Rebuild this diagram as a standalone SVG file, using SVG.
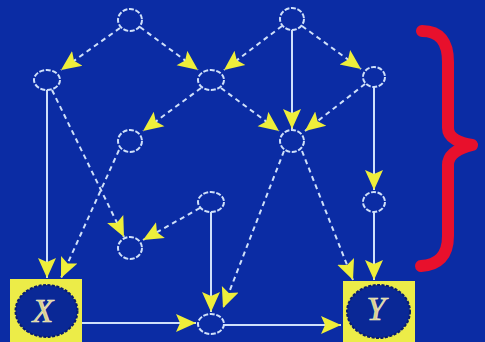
<svg xmlns="http://www.w3.org/2000/svg" width="485" height="342" viewBox="0 0 485 342">
<defs>
<style>
.bg{fill:#0b2ca4}
.n{fill:none;stroke:#cfe0fa;stroke-width:2;stroke-dasharray:5 1.6}
.s{fill:none;stroke:#cfe0fa;stroke-width:2;marker-end:url(#ah)}
.d{fill:none;stroke:#cfe0fa;stroke-width:2;stroke-dasharray:5 4;marker-end:url(#ah)}
.box{fill:#ecec48}
.inner{fill:#0a2896;stroke:#0a1c6e;stroke-width:2;stroke-dasharray:3 1.5}
.lbl{font-family:"Liberation Serif",serif;font-style:italic;font-size:34px;fill:#dcd08c;stroke:#f4f0d0;stroke-width:0.6;text-anchor:middle}
.brace{fill:none;stroke:#e8102c;stroke-width:12;stroke-linecap:round;stroke-linejoin:round}
</style>
<marker id="ah" markerUnits="userSpaceOnUse" viewBox="-20 -10 20 20" refX="0" refY="0" markerWidth="20" markerHeight="20" orient="auto">
<path d="M0,0 L-20,-9 L-16,0 L-20,9 Z" fill="#eeee3a"/>
</marker>
</defs>
<rect class="bg" x="0" y="0" width="485" height="342"/>

<g id="connectors">
<line class="d" x1="120" y1="28" x2="61" y2="70"/>
<line class="d" x1="140" y1="27" x2="198" y2="70"/>
<line class="d" x1="282" y1="26" x2="224" y2="70"/>
<line class="s" x1="292" y1="30" x2="292" y2="129"/>
<line class="d" x1="302" y1="26" x2="361" y2="69"/>
<line class="d" x1="221" y1="88" x2="279" y2="131"/>
<line class="d" x1="365" y1="84" x2="305" y2="131"/>
<line class="d" x1="201" y1="88" x2="143" y2="131"/>
<line class="s" x1="374" y1="87" x2="374" y2="190"/>
<line class="s" x1="47" y1="90" x2="47" y2="278"/>
<line class="d" x1="52" y1="90" x2="124" y2="237"/>
<line class="d" x1="119" y1="150" x2="61" y2="278"/>
<line class="d" x1="200" y1="208" x2="143" y2="240"/>
<line class="s" x1="211" y1="212" x2="211" y2="312"/>
<line class="d" x1="284" y1="151" x2="223" y2="308"/>
<line class="d" x1="302" y1="151" x2="353" y2="280"/>
<line class="s" x1="374" y1="212" x2="374" y2="280"/>
<line class="s" x1="82" y1="323" x2="196" y2="323"/>
<line class="s" x1="224" y1="325" x2="341" y2="325"/>
</g>

<g id="nA"><ellipse class="n" cx="130" cy="20" rx="12" ry="11"/></g>
<g id="nB"><ellipse class="n" cx="292" cy="19" rx="12" ry="11"/></g>
<g id="nC"><ellipse class="n" cx="47" cy="80" rx="13" ry="10"/></g>
<g id="nD"><ellipse class="n" cx="211" cy="80" rx="13" ry="10"/></g>
<g id="nE"><ellipse class="n" cx="374" cy="77" rx="11" ry="10"/></g>
<g id="nF"><ellipse class="n" cx="130" cy="141" rx="12" ry="11"/></g>
<g id="nG"><ellipse class="n" cx="292" cy="141" rx="12" ry="11"/></g>
<g id="nH"><ellipse class="n" cx="374" cy="202" rx="11" ry="10"/></g>
<g id="nI"><ellipse class="n" cx="211" cy="202" rx="13" ry="10"/></g>
<g id="nJ"><ellipse class="n" cx="130" cy="248" rx="12" ry="11"/></g>
<g id="nK"><ellipse class="n" cx="211" cy="324" rx="13" ry="10"/></g>

<g id="nX">
<rect class="box" x="10" y="279" width="72" height="63"/>
<ellipse class="inner" cx="46.5" cy="311" rx="31" ry="26"/>
<text class="lbl" x="43" y="322">X</text>
</g>
<g id="nY">
<rect class="box" x="343" y="281" width="72" height="61"/>
<ellipse class="inner" cx="378.5" cy="311.5" rx="31.5" ry="26.5"/>
<text class="lbl" x="376" y="320">Y</text>
</g>

<g id="brace">
<path class="brace" d="M422,31 C440,31 448,42 448,62 L448,128 C448,138 460,143 472,145 C460,148 448,153 448,165 L448,236 C448,256 438,265 421,266"/>
</g>
</svg>
